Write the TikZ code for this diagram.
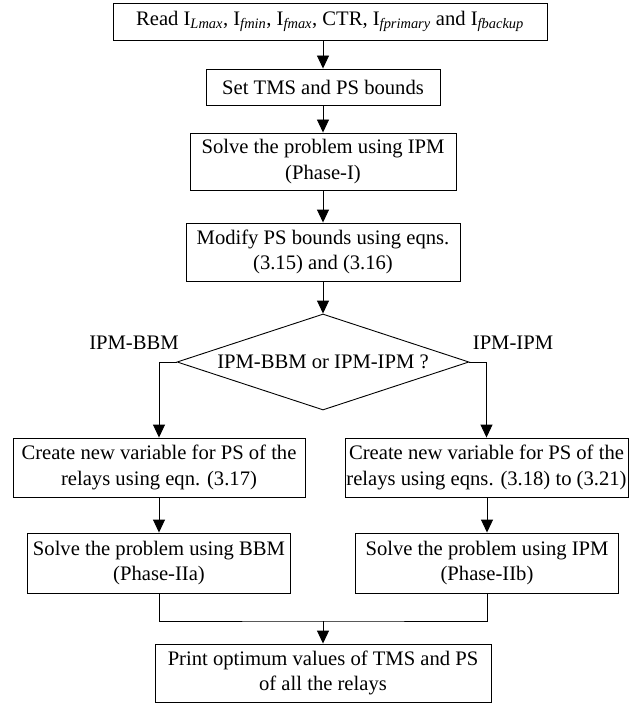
\documentclass[tikz,border=0pt]{standalone}
\usepackage{fontspec}
\setmainfont{Liberation Serif}
\usetikzlibrary{shapes.geometric,arrows.meta}

\tikzset{
  flowbox/.style={draw, rectangle, inner sep=0pt, align=center,
    line width=0.9bp},
  decision/.style={draw, diamond, inner sep=0pt, aspect=3.04,
    line width=0.9bp, minimum width=292bp, minimum height=96bp},
  branchlabel/.style={inner sep=0pt},
  flow/.style={line width=0.9bp},
  flowarrow/.style={flow, -{Triangle[width=12bp,length=13bp]}},
}

\begin{document}
\begin{tikzpicture}[x=1bp, y=-1bp,
  font=\fontsize{20.7}{25.5}\selectfont]
\useasboundingbox (0,0) rectangle (629,704);

% main column
\node[flowbox, minimum width=434bp, minimum height=37bp] (read) at (330,21.5)
  {Read I\textsubscript{\itshape Lmax}, I\textsubscript{\itshape fmin}, I\textsubscript{\itshape fmax}, CTR, I\textsubscript{\itshape fprimary} and I\textsubscript{\itshape fbackup}};
\node[flowbox, minimum width=234bp, minimum height=36bp] (bounds) at (323,87)
  {Set TMS and PS bounds};
\node[flowbox, minimum width=266bp, minimum height=57bp] (phase1) at (323,161.5)
  {Solve the problem using IPM\\(Phase-I)};
\node[flowbox, minimum width=274bp, minimum height=58bp] (modify) at (323,252)
  {Modify PS bounds using eqns.\\(3.15) and (3.16)};
\node[decision] (choice) at (323,362) {IPM-BBM or IPM-IPM ?};

\node[branchlabel] (lblbbm) at (134,343) {IPM-BBM};
\node[branchlabel] (lblipm) at (513,343) {IPM-IPM};

% left branch
\node[flowbox, minimum width=292bp, minimum height=59bp] (varbbm) at (159,467.5)
  {Create new variable for PS of the\\relays using eqn. (3.17)};
\node[flowbox, minimum width=263bp, minimum height=60bp] (solvebbm) at (159,563)
  {Solve the problem using BBM\\(Phase-IIa)};

% right branch
\node[flowbox, minimum width=283bp, minimum height=59bp] (varipm) at (486.5,467.5)
  {Create new variable for PS of the\\relays using eqns. (3.18) to (3.21)};
\node[flowbox, minimum width=263bp, minimum height=60bp] (solveipm) at (487,563)
  {Solve the problem using IPM\\(Phase-IIb)};

% output
\node[flowbox, minimum width=336bp, minimum height=58bp] (result) at (323,673)
  {Print optimum values of TMS and PS\\of all the relays};

\coordinate (merge) at (323,621);

% connectors
\draw[flowarrow] (bounds.north |- read.south) -- (bounds.north);
\draw[flowarrow] (bounds) -- (phase1);
\draw[flowarrow] (phase1) -- (modify);
\draw[flowarrow] (modify) -- (choice);
\draw[flowarrow] (choice.west) -| (varbbm.north);
\draw[flowarrow] (choice.east) -| (varipm.north);
\draw[flowarrow] (varbbm.south -| solvebbm.north) -- (solvebbm.north);
\draw[flowarrow] (varipm.south -| solveipm.north) -- (solveipm.north);
\draw[flow] (solvebbm.south) |- (merge) -| (solveipm.south);
\draw[flowarrow] (merge) -- (result.north);
\end{tikzpicture}
\end{document}
